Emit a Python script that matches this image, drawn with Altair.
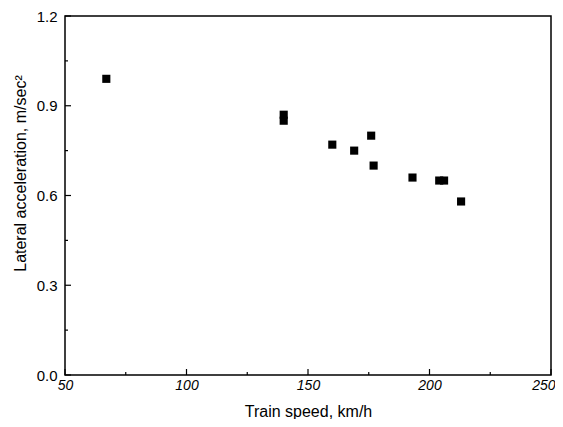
import altair as alt
import pandas as pd

speed = [67, 140, 140, 160, 169, 176, 177, 193, 204, 206, 213]
accel = [0.99, 0.87, 0.85, 0.77, 0.75, 0.80, 0.70, 0.66, 0.65, 0.65, 0.58]

x_major = [50, 100, 150, 200, 250]
x_minor = [75, 125, 175, 225]
y_major = [0.0, 0.3, 0.6, 0.9, 1.2]
y_minor = [0.15, 0.45, 0.75, 1.05]

W, H = 486, 359
FONT = "Liberation Sans"
XT = "Train speed, km/h"
YT = "Lateral acceleration, m/sec²"

df = pd.DataFrame({"speed": speed, "accel": accel})
xs = alt.Scale(domain=[50, 250], nice=False, zero=False)
ys = alt.Scale(domain=[0, 1.2], nice=False, zero=False)

xaxis = alt.Axis(values=x_major, ticks=False, domain=False, grid=False, labelFlush=False,
                 labelAlign={"condition": {"test": "datum.value == 250", "value": "right"}, "value": "center"},
                 labelOffset={"condition": {"test": "datum.value == 250", "value": 4}, "value": 0},
                 labelFontStyle="italic", labelFontSize=14, labelPadding=3,
                 labelColor="black", titleFontSize=16, titleFontWeight="normal",
                 titleColor="black", titlePadding=11, labelFont=FONT, titleFont=FONT)
yaxis = alt.Axis(values=y_major, format=".1f", ticks=False, domain=False, grid=False, labelFlush=False,
                 labelFontSize=15, labelPadding=8, labelColor="black",
                 titleFontSize=16, titleFontWeight="normal", titleColor="black",
                 titlePadding=8, titleY=157, labelFont=FONT, titleFont=FONT)

points = alt.Chart(df).mark_point(shape="square", filled=True, size=66, color="black", opacity=1).encode(
    x=alt.X("speed:Q", scale=xs, title=XT, axis=xaxis),
    y=alt.Y("accel:Q", scale=ys, title=YT, axis=yaxis),
)

def xticks(vals, length):
    d = pd.DataFrame({"v": vals})
    return alt.Chart(d).mark_rule(color="black", strokeWidth=1.2).encode(
        x=alt.X("v:Q", scale=xs, title=XT, axis=xaxis), y=alt.value(H), y2=alt.value(H - length))

def yticks(vals, length):
    d = pd.DataFrame({"v": vals})
    return alt.Chart(d).mark_rule(color="black", strokeWidth=1.2).encode(
        y=alt.Y("v:Q", scale=ys, title=YT, axis=yaxis), x=alt.value(0), x2=alt.value(length))

chart = alt.layer(
    points, xticks(x_major, 6), xticks(x_minor, 3), yticks(y_major, 6), yticks(y_minor, 3)
).properties(
    width=W, height=H, autosize=alt.AutoSizeParams(type="none"),
    padding={"left": 57, "top": 8, "right": 4, "bottom": 44}, background="white"
).configure_view(stroke="black", strokeWidth=1.5)

chart.save("out.html", embed_options={"renderer": "svg", "actions": False})
